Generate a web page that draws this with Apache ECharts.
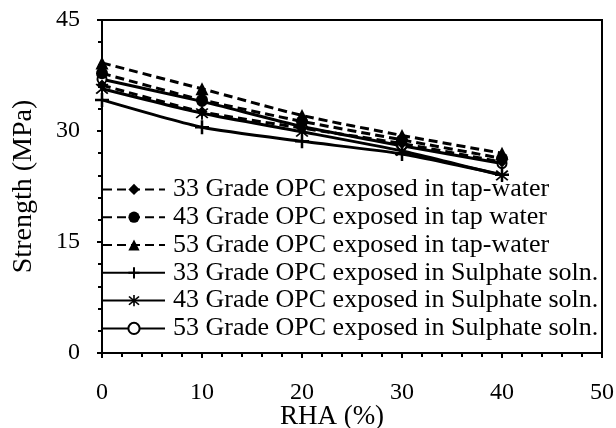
<!DOCTYPE html>
<html>
<head>
<meta charset="utf-8">
<script src="https://cdn.jsdelivr.net/npm/echarts@6/dist/echarts.min.js"></script>
<style>
html,body{margin:0;padding:0;background:#fff;}
#chart{width:616px;height:428px;}
</style>
</head>
<body>
<div id="chart"></div>
<script>
var rha = [0, 10, 20, 30, 40];
var seriesNames = [
  "33 Grade OPC exposed in tap-water",
  "43 Grade OPC exposed in tap water",
  "53 Grade OPC exposed in tap-water",
  "33 Grade OPC exposed in Sulphate soln.",
  "43 Grade OPC exposed in Sulphate soln.",
  "53 Grade OPC exposed in Sulphate soln."
];
var tap33 = [36.2, 32.6, 30.4, 28.3, 25.8];
var tap43 = [37.8, 34.2, 31.3, 28.8, 26.3];
var tap53 = [39.2, 35.7, 32.1, 29.4, 27.0];
var sul33 = [34.2, 30.5, 28.6, 26.9, 24.1];
var sul43 = [35.7, 32.4, 29.9, 27.3, 24.0];
var sul53 = [37.0, 34.0, 30.6, 28.0, 25.6];
var yTicks = [0, 15, 30, 45];
var xTicks = [0, 10, 20, 30, 40, 50];

var FONT = '"Liberation Serif", "Times New Roman", serif';
var plusPath = 'path://M4.1,0 L5.9,0 L5.9,4.1 L10,4.1 L10,5.9 L5.9,5.9 L5.9,10 L4.1,10 L4.1,5.9 L0,5.9 L0,4.1 L4.1,4.1 Z';
var starPath = 'path://M8.8,0 L11.2,0 L11.2,20 L8.8,20 Z M1.8,3.5 L3.5,1.8 L18.2,16.5 L16.5,18.2 Z M16.5,1.8 L18.2,3.5 L3.5,18.2 L1.8,16.5 Z';

function pairs(ys){ return rha.map(function(x,i){ return [x, ys[i]]; }); }

var defs = [
  {data: tap33, symbol: 'diamond', size: 11, dash: [9,5]},
  {data: tap43, symbol: 'circle', size: 12, dash: [9,5]},
  {data: tap53, symbol: 'triangle', size: 13, dash: [9,5]},
  {data: sul33, symbol: plusPath, size: 14, dash: 'solid'},
  {data: sul43, symbol: starPath, size: 13, dash: 'solid'},
  {data: sul53, symbol: 'emptyCircle', size: 9, dash: 'solid'}
];

var series = defs.map(function(d, i){
  return {
    name: seriesNames[i],
    type: 'line',
    data: pairs(d.data),
    symbol: d.symbol,
    symbolSize: d.size,
    smooth: 0.2,
    z: 10 - i,
    lineStyle: {color: '#000', width: 3, type: d.dash},
    itemStyle: {color: '#000', borderWidth: d.symbol === 'emptyCircle' ? 2 : 0}
  };
});

var chart = echarts.init(document.getElementById('chart'), null, {renderer: 'canvas'});
chart.setOption({
  backgroundColor: '#fff',
  animation: false,
  grid: {left: 102, right: 14, top: 20, bottom: 75, show: true, borderColor: '#000', borderWidth: 2,
    backgroundColor: 'transparent', containLabel: false, outerBoundsMode: 'none'},
  legend: {
    orient: 'vertical',
    left: 102,
    top: 175.5,
    padding: 0,
    itemWidth: 62,
    itemHeight: 14,
    itemGap: 0,
    data: seriesNames,
    textStyle: {fontFamily: FONT, fontSize: 26, color: '#000', lineHeight: 27.8, padding: [0,0,0,3]},
    inactiveColor: '#000'
  },
  xAxis: {
    type: 'value', min: 0, max: 50, interval: 10,
    name: 'RHA (%)', nameLocation: 'middle', nameGap: 50, nameMoveOverlap: false,
    nameTextStyle: {fontFamily: FONT, fontSize: 27, color: '#000', padding: [0, 40, 0, 0]},
    axisLine: {show: true, lineStyle: {color: '#000', width: 2}},
    axisTick: {show: true, length: 5, lineStyle: {color: '#000', width: 2}},
    minorTick: {show: true, splitNumber: 5, length: 4, lineStyle: {color: '#000', width: 2}},
    splitLine: {show: false},
    axisLabel: {fontFamily: FONT, fontSize: 24, color: '#000', margin: 28,
      formatter: function(v){ return xTicks.indexOf(v) >= 0 ? String(v) : ''; }}
  },
  yAxis: {
    type: 'value', min: 0, max: 45, interval: 15,
    name: 'Strength (MPa)', nameLocation: 'middle', nameGap: 64, nameMoveOverlap: false,
    nameTextStyle: {fontFamily: FONT, fontSize: 28, color: '#000'},
    axisLine: {show: true, lineStyle: {color: '#000', width: 2}},
    axisTick: {show: true, length: 5, lineStyle: {color: '#000', width: 2}},
    minorTick: {show: true, splitNumber: 5, length: 4, lineStyle: {color: '#000', width: 2}},
    splitLine: {show: false},
    axisLabel: {fontFamily: FONT, fontSize: 24, color: '#000', margin: 22,
      formatter: function(v){ return yTicks.indexOf(v) >= 0 ? String(v) : ''; }}
  },
  series: series
});
</script>
</body>
</html>
